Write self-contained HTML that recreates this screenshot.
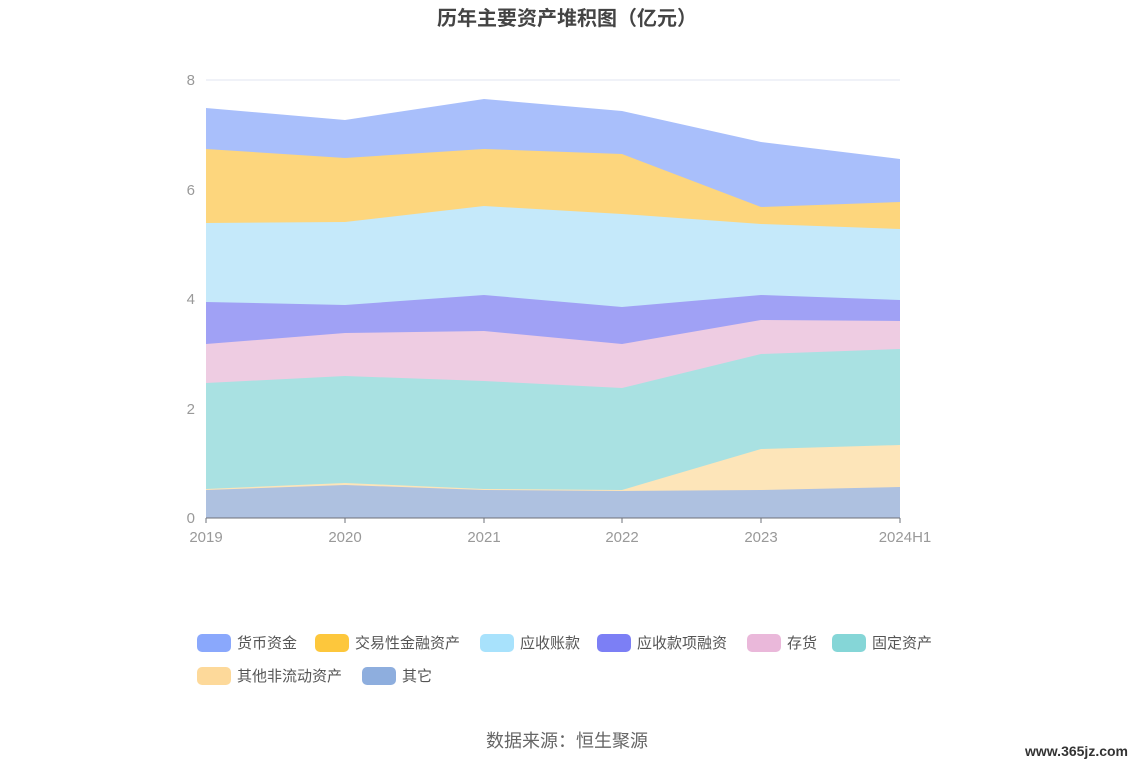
<!DOCTYPE html><html><head><meta charset="utf-8"><style>body{margin:0;background:#fff;font-family:"Liberation Sans","Noto Sans CJK SC",sans-serif}</style></head><body>
<svg width="1134" height="766" xmlns="http://www.w3.org/2000/svg" font-family="Liberation Sans, Noto Sans CJK SC, sans-serif">
<text x="567" y="25" text-anchor="middle" font-size="20" font-weight="bold" fill="#444">历年主要资产堆积图（亿元）</text>
<line x1="206" y1="80" x2="900" y2="80" stroke="#e0e6f1"/>
<g font-size="15" fill="#999" text-anchor="end">
<text x="195" y="85">8</text><text x="195" y="195">6</text><text x="195" y="304">4</text><text x="195" y="414">2</text><text x="195" y="523">0</text></g>
<g>
<polygon fill="#a9bffb" points="206,108 345,120 484,99 622,111 761,142 900,159 900,518 206,518"/>
<polygon fill="#fdd67d" points="206,149 345,158 484,149 622,154 761,207 900,202 900,518 206,518"/>
<polygon fill="#c5e9fa" points="206,223 345,222 484,206 622,214 761,224 900,229 900,518 206,518"/>
<polygon fill="#a0a1f5" points="206,302 345,305 484,295 622,307 761,295 900,300 900,518 206,518"/>
<polygon fill="#eecce2" points="206,344 345,333 484,331 622,344 761,320 900,321 900,518 206,518"/>
<polygon fill="#a9e1e2" points="206,383 345,376 484,381 622,388 761,354 900,349 900,518 206,518"/>
<polygon fill="#fde5b9" points="206,489 345,483 484,489 622,490 761,449 900,445 900,518 206,518"/>
<polygon fill="#aec1e0" points="206,490 345,485 484,490 622,491 761,490 900,487 900,518 206,518"/>
</g>
<line x1="206" y1="518" x2="900" y2="518" stroke="#6e7079"/>
<g stroke="#6e7079"><line x1="206" y1="518" x2="206" y2="523"/><line x1="345" y1="518" x2="345" y2="523"/><line x1="484" y1="518" x2="484" y2="523"/><line x1="622" y1="518" x2="622" y2="523"/><line x1="761" y1="518" x2="761" y2="523"/><line x1="900" y1="518" x2="900" y2="523"/></g>
<g font-size="15" fill="#999" text-anchor="middle">
<text x="206" y="542">2019</text><text x="345" y="542">2020</text><text x="484" y="542">2021</text><text x="622" y="542">2022</text><text x="761" y="542">2023</text><text x="905" y="542">2024H1</text></g>
<g font-size="15" fill="#555">
<rect x="197" y="634" width="34" height="18" rx="5" fill="#8aa8fc"/><text x="237" y="648">货币资金</text>
<rect x="315" y="634" width="34" height="18" rx="5" fill="#fdc73c"/><text x="355" y="648">交易性金融资产</text>
<rect x="480" y="634" width="34" height="18" rx="5" fill="#a8e2fc"/><text x="520" y="648">应收账款</text>
<rect x="597" y="634" width="34" height="18" rx="5" fill="#7c7ff5"/><text x="637" y="648">应收款项融资</text>
<rect x="747" y="634" width="34" height="18" rx="5" fill="#eab8da"/><text x="787" y="648">存货</text>
<rect x="832" y="634" width="34" height="18" rx="5" fill="#85d6d7"/><text x="872" y="648">固定资产</text>
<rect x="197" y="667" width="34" height="18" rx="5" fill="#fdd99a"/><text x="237" y="681">其他非流动资产</text>
<rect x="362" y="667" width="34" height="18" rx="5" fill="#8eaede"/><text x="402" y="681">其它</text>
</g>
<text x="567" y="747" text-anchor="middle" font-size="18" fill="#666">数据来源：恒生聚源</text>
<text x="1128" y="756" text-anchor="end" font-size="14" font-weight="bold" fill="#333">www.365jz.com</text>
</svg></body></html>
